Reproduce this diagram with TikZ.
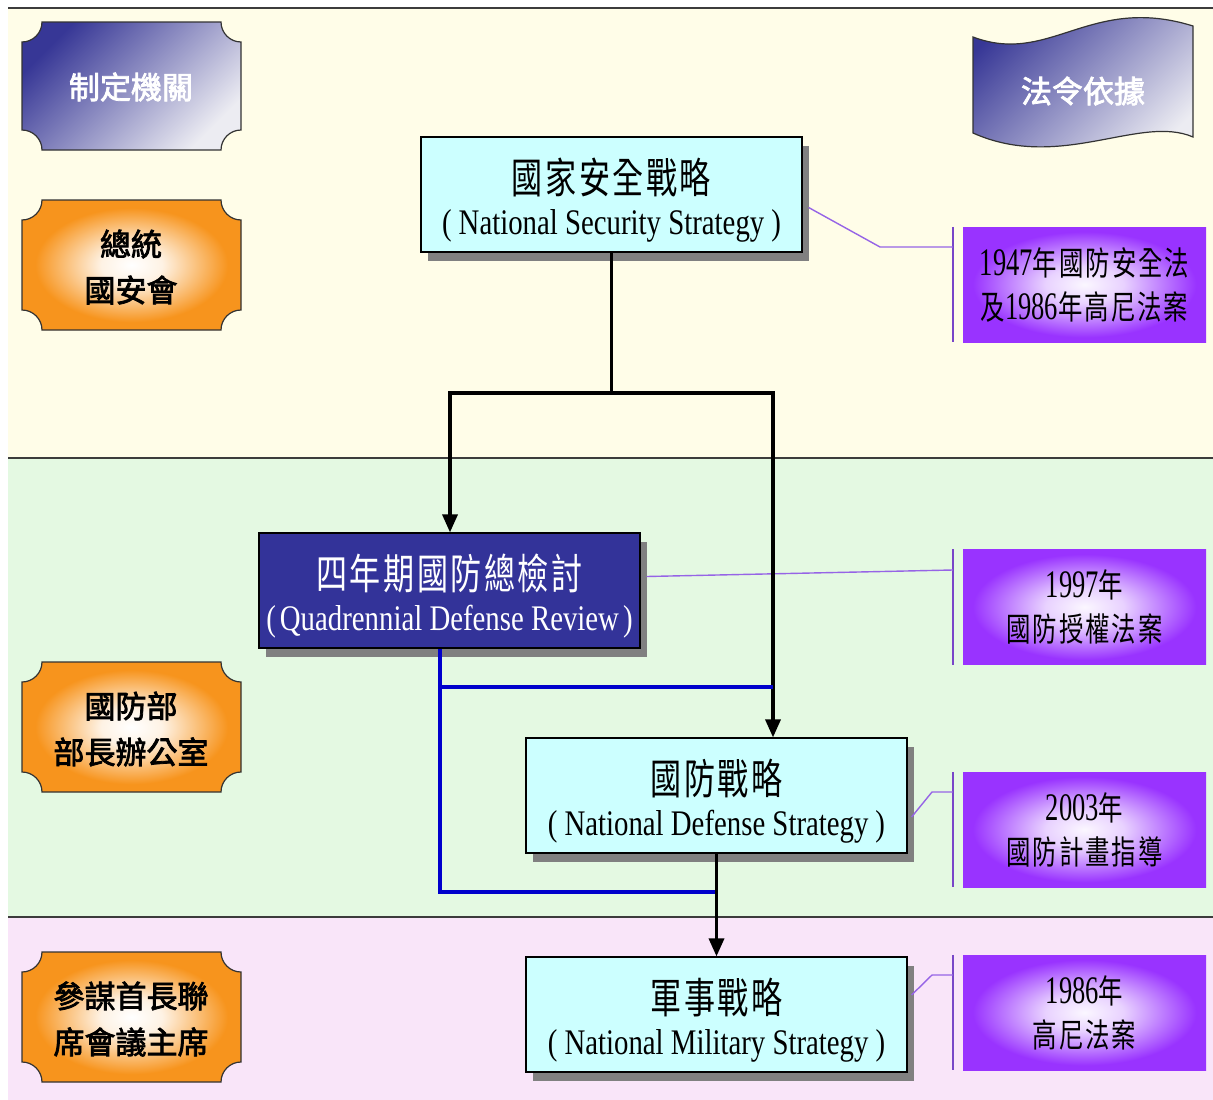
\documentclass[tikz,border=0pt]{standalone}
\usepackage{fontspec}
\setmainfont{Liberation Serif}[FakeStretch=0.8]
\newfontfamily\numf{Liberation Serif}[FakeStretch=0.68]
\newfontfamily\cjk{Noto Sans CJK TC}[FakeStretch=0.74,LetterSpace=6]
\newfontfamily\cjkb{Noto Sans CJK TC}[FakeBold=2.5]
\usetikzlibrary{arrows.meta,shadows}

\definecolor{bandY}{RGB}{255,253,232}
\definecolor{bandG}{RGB}{228,249,226}
\definecolor{bandP}{RGB}{249,229,249}
\definecolor{boxC}{RGB}{204,255,255}
\definecolor{qdrB}{RGB}{51,51,153}
\definecolor{shGray}{RGB}{128,128,128}
\definecolor{lineB}{RGB}{0,0,204}
\definecolor{orng}{RGB}{247,148,29}
\definecolor{purp}{RGB}{153,51,255}
\definecolor{plinkC}{RGB}{150,100,230}
\definecolor{pbarC}{RGB}{120,70,200}
\definecolor{steelA}{RGB}{55,55,150}
\definecolor{steelB}{RGB}{236,236,242}
\definecolor{bandline}{RGB}{60,60,60}

\pgfdeclareradialshading{orangeglow}{\pgfpoint{0bp}{0bp}}{color(0bp)=(white); color(7bp)=(white!88!orng); color(22bp)=(orng); color(50bp)=(orng)}
\pgfdeclareradialshading{purpleglow}{\pgfpoint{0bp}{0bp}}{color(0bp)=(white!96!purp); color(8bp)=(white!78!purp); color(23bp)=(purp); color(50bp)=(purp)}

\newcommand{\plq}[5]{(#1+#5,#2) -- (#3-#5,#2) .. controls (#3-#5,#2+0.55*#5) and (#3-0.55*#5,#2+#5) .. (#3,#2+#5)
 -- (#3,#4-#5) .. controls (#3-0.55*#5,#4-#5) and (#3-#5,#4-0.55*#5) .. (#3-#5,#4)
 -- (#1+#5,#4) .. controls (#1+#5,#4-0.55*#5) and (#1+0.55*#5,#4-#5) .. (#1,#4-#5)
 -- (#1,#2+#5) .. controls (#1+0.55*#5,#2+#5) and (#1+#5,#2+0.55*#5) .. (#1+#5,#2) -- cycle}

\newcommand{\cjkL}{\cjk\fontsize{42}{41.5}\selectfont}
\newcommand{\cjkS}{\cjk\fontsize{33}{44}\selectfont}
\newcommand{\numS}{\numf\fontsize{39}{44}\selectfont}
\newcommand{\tallstrut}{\rule{0pt}{47pt}}

\tikzset{
  mainbox/.style={rectangle, draw=black, line width=1.2pt, minimum width=381pt, minimum height=115pt,
    inner sep=0pt, align=center, fill=boxC, font=\fontsize{36}{41.5}\selectfont,
    drop shadow={shadow xshift=7pt, shadow yshift=-9pt, fill=shGray, opacity=1}},
  pbox/.style={rectangle, minimum width=243pt, minimum height=115pt, inner sep=0pt, align=center,
    shade, shading=purpleglow, font=\fontsize{32}{44}\selectfont},
  plqtext/.style={align=center, inner sep=0pt, font=\cjkb\fontsize{31}{46}\selectfont},
  plqshape/.style={draw=black!80, line width=1.2pt, shading=orangeglow},
  conn/.style={draw=black, line width=3.4pt},
  arr/.style={conn, -{Triangle[width=15pt,length=18pt]}},
  bline/.style={draw=lineB, line width=4.5pt},
  plink/.style={draw=plinkC, line width=1.4pt},
  pbar/.style={draw=pbarC, line width=1.4pt}
}

\begin{document}
\begin{tikzpicture}[x=1pt,y=-1pt]
\useasboundingbox (0,0) rectangle (1213,1100);
\fill[white] (0,0) rectangle (1213,1100);
% bands
\fill[bandY] (8,8) rectangle (1213,458);
\fill[bandG] (8,458) rectangle (1213,917);
\fill[bandP] (8,917) rectangle (1213,1100);
\draw[bandline, line width=2pt] (8,8) -- (1213,8);
\draw[bandline, line width=2pt] (8,458) -- (1213,458);
\draw[bandline, line width=2pt] (8,917) -- (1213,917);

% left plaques
\shadedraw[draw=black!80, line width=1.2pt, top color=steelA, bottom color=steelB, shading angle=45] \plq{22}{22}{241}{150}{20};
\node[plqtext, text=white] (agency) at (131,87) {制定機關};
\shadedraw[plqshape] \plq{22}{200}{241}{330}{20};
\node[plqtext] (pres) at (131,267) {總統\\國安會};
\shadedraw[plqshape] \plq{22}{662}{241}{792}{20};
\node[plqtext] (dod) at (131,729) {國防部\\部長辦公室};
\shadedraw[plqshape] \plq{22}{952}{241}{1082}{20};
\node[plqtext] (jcs) at (131,1019) {參謀首長聯\\席會議主席};

% wave banner
\shadedraw[draw=black!80, line width=1.2pt, top color=steelA, bottom color=steelB, shading angle=45]
  (973,37) .. controls (1050,66) and (1090,-6) .. (1193,26) -- (1193,137)
  .. controls (1140,114) and (1060,172) .. (973,133) -- cycle;
\node[plqtext, text=white] (legal) at (1083,91) {法令依據};

% main boxes
\node[mainbox] (nss) at (611.5,194.5) {\tallstrut{\cjkL 國家安全戰略}\\(\hspace{7pt}National Security Strategy\hspace{7pt})};
\node[mainbox, fill=qdrB, text=white] (qdr) at (449.5,590.5) {\tallstrut{\cjkL 四年期國防總檢討}\\(\hspace{4pt}Quadrennial Defense Review\hspace{4pt})};
\node[mainbox] (nds) at (716.5,795.5) {\tallstrut{\cjkL 國防戰略}\\(\hspace{7pt}National Defense Strategy\hspace{7pt})};
\node[mainbox] (nms) at (716.5,1014.5) {\tallstrut{\cjkL 軍事戰略}\\(\hspace{7pt}National Military Strategy\hspace{7pt})};

% purple boxes
\node[pbox] (pa) at (1084.5,284.5) {{\numS 1947}{\cjkS 年國防安全法}\\{\cjkS 及}{\numS 1986}{\cjkS 年高尼法案}};
\node[pbox] (pb) at (1084.5,607) {{\numS 1997}{\cjkS 年}\\{\cjkS 國防授權法案}};
\node[pbox] (pc) at (1084.5,829.5) {{\numS 2003}{\cjkS 年}\\{\cjkS 國防計畫指導}};
\node[pbox] (pd) at (1084.5,1012.5) {{\numS 1986}{\cjkS 年}\\{\cjkS 高尼法案}};

% purple bars
\foreach \p in {pa,pb,pc,pd}{
  \draw[pbar] ([xshift=-10pt]\p.north west) -- ([xshift=-10pt]\p.south west);
}
\coordinate (pa-in) at ([shift={(-10,-37.5)}]pa.west);
\coordinate (pb-in) at ([shift={(-10,-37)}]pb.west);
\coordinate (pc-in) at ([shift={(-10,-37.5)}]pc.west);
\coordinate (pd-in) at ([shift={(-10,-37.5)}]pd.west);
\draw[plink] ([shift={(6,13)}]nss.east) -- (880,247) -- (pa-in);
\draw[plink] ([shift={(6,-14)}]qdr.east) -- (pb-in);
\draw[plink] ([shift={(4,21.5)}]nds.east) -- (932,792) -- (pc-in);
\draw[plink] ([shift={(4,-19.5)}]nms.east) -- (932,975) -- (pd-in);

% black connectors
\coordinate (jl) at (450,393);
\coordinate (jr) at (773,393);
\draw[conn] (nss.south) -- (nss.south |- jl);
\draw[arr] (nss.south |- jl) -- (jl) -- (jl |- qdr.north);
\draw[arr] (nss.south |- jl) -- (jr) -- (jr |- nds.north);

% blue connectors
\coordinate (bq) at (440,687);
\coordinate (bb) at (440,892);
\draw[bline] (qdr.south -| bb) -- (bb) -- (bb -| nds.south);
\draw[bline] (bq) -- (bq -| jr);
\draw[arr] (nds.south) -- (nms.north);
\end{tikzpicture}
\end{document}
